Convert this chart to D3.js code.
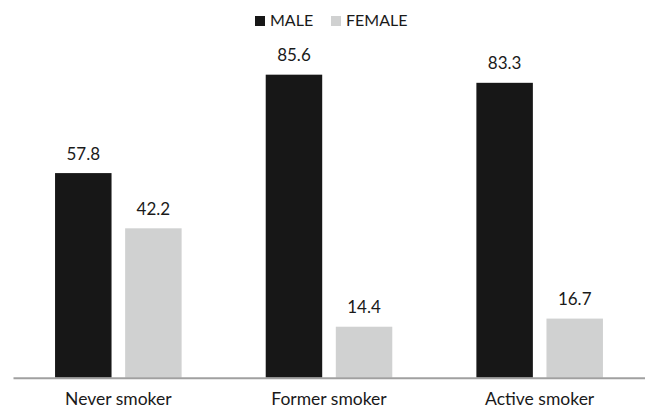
<!DOCTYPE html>
<html>
<head>
<meta charset="utf-8">
<script src="https://cdn.jsdelivr.net/npm/d3@7"></script>
<style>
  html, body { margin: 0; padding: 0; background: #fff; }
  svg { display: block; }
  text { font-family: Lato, "Open Sans", sans-serif; fill: #1a1a1a; }
</style>
</head>
<body>
<svg id="chart" width="645" height="411"></svg>
<script>
// Smoking status by sex (%)
const categories = ["Never smoker", "Former smoker", "Active smoker"];
const seriesNames = ["MALE", "FEMALE"];
const maleValues = [57.8, 85.6, 83.3];
const femaleValues = [42.2, 14.4, 16.7];
const seriesColors = ["#171717", "#d0d1d1"];

const rows = categories.map((c, i) => ({
  category: c,
  values: [
    { series: seriesNames[0], value: maleValues[i] },
    { series: seriesNames[1], value: femaleValues[i] }
  ]
}));

const W = 645, H = 411;
const baseline = 377.7;
const svg = d3.select("#chart");

const x0 = d3.scaleBand().domain(categories).range([13, W]).padding(0);
const x1 = d3.scaleBand().domain(seriesNames).range([0, x0.bandwidth()])
  .paddingInner(0.194).paddingOuter(0.6);
const y = d3.scaleLinear().domain([0, 100]).range([baseline, 23.7]);
const color = d3.scaleOrdinal().domain(seriesNames).range(seriesColors);

// bars
const groups = svg.append("g").selectAll("g")
  .data(rows).join("g")
  .attr("transform", d => `translate(${x0(d.category)},0)`);

groups.selectAll("rect")
  .data(d => d.values).join("rect")
  .attr("x", d => x1(d.series))
  .attr("width", x1.bandwidth())
  .attr("y", d => y(d.value))
  .attr("height", d => y(0) - y(d.value))
  .attr("fill", d => color(d.series));

// value labels
groups.selectAll("text.val")
  .data(d => d.values).join("text")
  .attr("class", "val")
  .attr("x", d => x1(d.series) + x1.bandwidth() / 2)
  .attr("y", d => y(d.value) - 13.5)
  .attr("text-anchor", "middle")
  .style("font-size", "17px")
  .text(d => d.value.toFixed(1));

// category axis
const axis = svg.append("g")
  .attr("transform", `translate(0,${baseline})`)
  .call(d3.axisBottom(x0).tickSize(0).tickPadding(14.5));
axis.select(".domain").attr("stroke", "#a0a0a0").attr("stroke-width", 2);
axis.selectAll(".tick text")
  .style("font-size", "17.5px")
  .style("font-family", "Lato, 'Open Sans', sans-serif")
  .attr("fill", "#1a1a1a");

// legend
const legendItems = [
  { name: seriesNames[0], x: 255 },
  { name: seriesNames[1], x: 331 }
];
const legend = svg.append("g").selectAll("g")
  .data(legendItems).join("g")
  .attr("transform", d => `translate(${d.x},16)`);
legend.append("rect")
  .attr("width", 10).attr("height", 10)
  .attr("fill", d => color(d.name));
legend.append("text")
  .attr("x", 15).attr("y", 10.3)
  .style("font-size", "16px")
  .text(d => d.name);
</script>
</body>
</html>
